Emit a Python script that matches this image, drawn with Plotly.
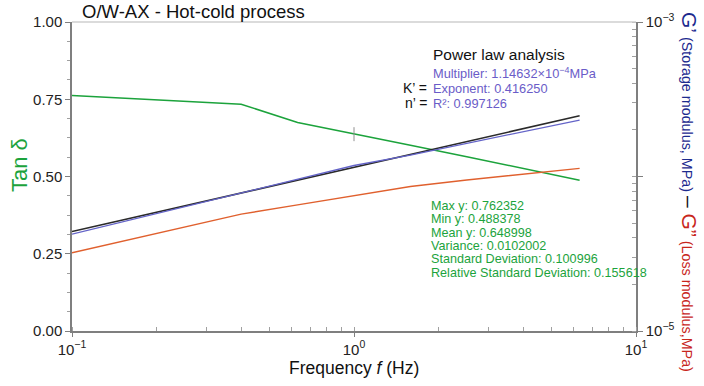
import plotly.graph_objects as go

# ---------------- data ----------------
freq = [0.1, 0.158, 0.251, 0.398, 0.631, 1.0, 1.585, 2.512, 3.981, 6.310]
tan_delta = [0.762, 0.752, 0.743, 0.734, 0.675, 0.637, 0.601, 0.564, 0.526, 0.488]
g_storage = [4.23e-5, 5.19e-5, 6.35e-5, 7.78e-5, 9.57e-5, 1.178e-4, 1.377e-4, 1.637e-4, 1.94e-4, 2.32e-4]
g_loss = [3.21e-5, 3.88e-5, 4.71e-5, 5.71e-5, 6.55e-5, 7.52e-5, 8.61e-5, 9.49e-5, 1.033e-4, 1.129e-4]
fit_freq = [0.1, 6.310]
fit_values = [4.40e-5, 2.47e-4]
cursor_freq = [1.0]
cursor_val = [0.637]

x_tickvals = [0.1, 1, 10]
x_ticktext = ["10<sup>−1</sup>", "10<sup>0</sup>", "10<sup>1</sup>"]
y_tickvals = [0.0, 0.25, 0.5, 0.75, 1.0]
y_ticktext = ["0.00", "0.25", "0.50", "0.75", "1.00"]
y2_tickvals = [1e-5, 1e-4, 1e-3]
y2_ticktext = ["10<sup>−5</sup>", "", "10<sup>−3</sup>"]

stats_lines = [
    "Max y: 0.762352",
    "Min y: 0.488378",
    "Mean y: 0.648998",
    "Variance: 0.0102002",
    "Standard Deviation: 0.100996",
    "Relative Standard Deviation: 0.155618",
]
fit_lines = [
    "Multiplier: 1.14632×10<sup>−4</sup>MPa",
    "Exponent: 0.416250",
    "R²: 0.997126",
]
fit_labels = ["K’ =", "n’ ="]

# ---------------- layout geometry ----------------
W, H = 704, 386
L, R, T, B = 72, 636, 22, 331
FONT = "Liberation Sans, Arial, sans-serif"


def px(x):
    return (x - L) / (R - L)


def py(y):
    return (B - y) / (B - T)


GREEN = "#1ca33c"
BLUE = "#6464c8"
RED = "#e0602e"
AXIS = "#7f7f7f"

fig = go.Figure()
fig.add_trace(go.Scatter(x=freq, y=tan_delta, mode="lines",
                         line=dict(color=GREEN, width=1.6), yaxis="y"))
fig.add_trace(go.Scatter(x=freq, y=g_loss, mode="lines",
                         line=dict(color=RED, width=1.4), yaxis="y2"))
fig.add_trace(go.Scatter(x=fit_freq, y=fit_values, mode="lines",
                         line=dict(color="#2a2a2a", width=1.6), yaxis="y2"))
fig.add_trace(go.Scatter(x=freq, y=g_storage, mode="lines",
                         line=dict(color=BLUE, width=1.3), yaxis="y2"))
fig.add_trace(go.Scatter(x=cursor_freq, y=cursor_val, mode="markers",
                         marker=dict(symbol="line-ns", size=10,
                                     line=dict(color="#909090", width=1)),
                         yaxis="y"))

annotations = []
annotations.append(dict(text="O/W-AX - Hot-cold process", xref="paper", yref="paper",
                        x=px(80), y=py(12), xanchor="left", yanchor="middle",
                        showarrow=False, font=dict(size=18.5, color="#111", family=FONT)))
annotations.append(dict(text="Power law analysis", xref="paper", yref="paper",
                        x=px(431), y=py(55), xanchor="left", yanchor="middle",
                        showarrow=False, font=dict(size=15.5, color="#111", family=FONT)))
for i, t in enumerate(fit_lines):
    annotations.append(dict(text=t, xref="paper", yref="paper",
                            x=px(431), y=py(73 + 15 * i), xanchor="left", yanchor="middle",
                            showarrow=False, font=dict(size=12.8, color="#6a5cc8", family=FONT)))
for i, t in enumerate(fit_labels):
    annotations.append(dict(text=t, xref="paper", yref="paper",
                            x=px(429), y=py(88 + 15 * i), xanchor="right", yanchor="middle",
                            showarrow=False, font=dict(size=14, color="#111", family=FONT)))
for i, t in enumerate(stats_lines):
    annotations.append(dict(text=t, xref="paper", yref="paper",
                            x=px(429), y=py(206 + 13.3 * i), xanchor="left", yanchor="middle",
                            showarrow=False, font=dict(size=12.6, color=GREEN, family=FONT)))
annotations.append(dict(text="Tan δ", xref="paper", yref="paper",
                        x=px(19), y=py(165), xanchor="center", yanchor="middle",
                        textangle=-90, showarrow=False,
                        font=dict(size=22, color=GREEN, family=FONT)))
right_title = (
    '<span style="font-size:21px;color:#1c2a8e">G’</span>'
    '<span style="font-size:14.3px;color:#1c2a8e"> (Storage modulus, MPa) </span>'
    '<span style="font-size:21px;color:#111">–</span>'
    '<span style="font-size:21px;color:#c8261c"> G”</span>'
    '<span style="font-size:14.3px;color:#c8261c"> (Loss modulus,MPa)</span>'
)
annotations.append(dict(text=right_title, xref="paper", yref="paper",
                        x=px(690), y=py(192), xanchor="center", yanchor="middle",
                        textangle=90, showarrow=False, font=dict(family=FONT)))
annotations.append(dict(text="Frequency <i>f</i> (Hz)", xref="paper", yref="paper",
                        x=px(354), y=py(368), xanchor="center", yanchor="middle",
                        showarrow=False, font=dict(size=17.5, color="#111", family=FONT)))

fig.update_layout(
    width=W, height=H,
    margin=dict(l=L, r=W - R, t=T, b=H - B, pad=0),
    paper_bgcolor="white", plot_bgcolor="white",
    showlegend=False,
    font=dict(family=FONT, size=14, color="#222"),
    annotations=annotations,
    xaxis=dict(type="log", range=[-1, 1], tickvals=x_tickvals, ticktext=x_ticktext,
               showgrid=False, zeroline=False, showline=True, linecolor=AXIS, linewidth=1.5,
               ticks="outside", ticklen=4, tickcolor=AXIS,
               tickfont=dict(size=15, color="#222"),
               minor=dict(ticks="inside", ticklen=4, tickcolor="#a0a0a0", dtick="D1", showgrid=False)),
    yaxis=dict(range=[0, 1], tickvals=y_tickvals, ticktext=y_ticktext,
               showgrid=False, zeroline=False, showline=True, linecolor=AXIS, linewidth=1.5,
               ticks="outside", ticklen=5, tickcolor=AXIS,
               tickfont=dict(size=15, color="#222"),
               minor=dict(ticks="outside", ticklen=3, tickcolor="#a0a0a0", dtick=0.0625, showgrid=False)),
    yaxis2=dict(type="log", range=[-5, -3], overlaying="y", side="right",
                tickvals=y2_tickvals, ticktext=y2_ticktext,
                showgrid=False, zeroline=False, showline=True, linecolor=AXIS, linewidth=1.5,
                ticks="outside", ticklen=5, tickcolor=AXIS,
                tickfont=dict(size=15, color="#222"),
                minor=dict(ticks="inside", ticklen=4, tickcolor="#a0a0a0", dtick="D1", showgrid=False)),
    shapes=[dict(type="line", xref="paper", yref="paper", x0=0, x1=1, y0=1, y1=1,
                 line=dict(color="#cfcfcf", width=1.5))],
)

fig.write_html("out.html")
